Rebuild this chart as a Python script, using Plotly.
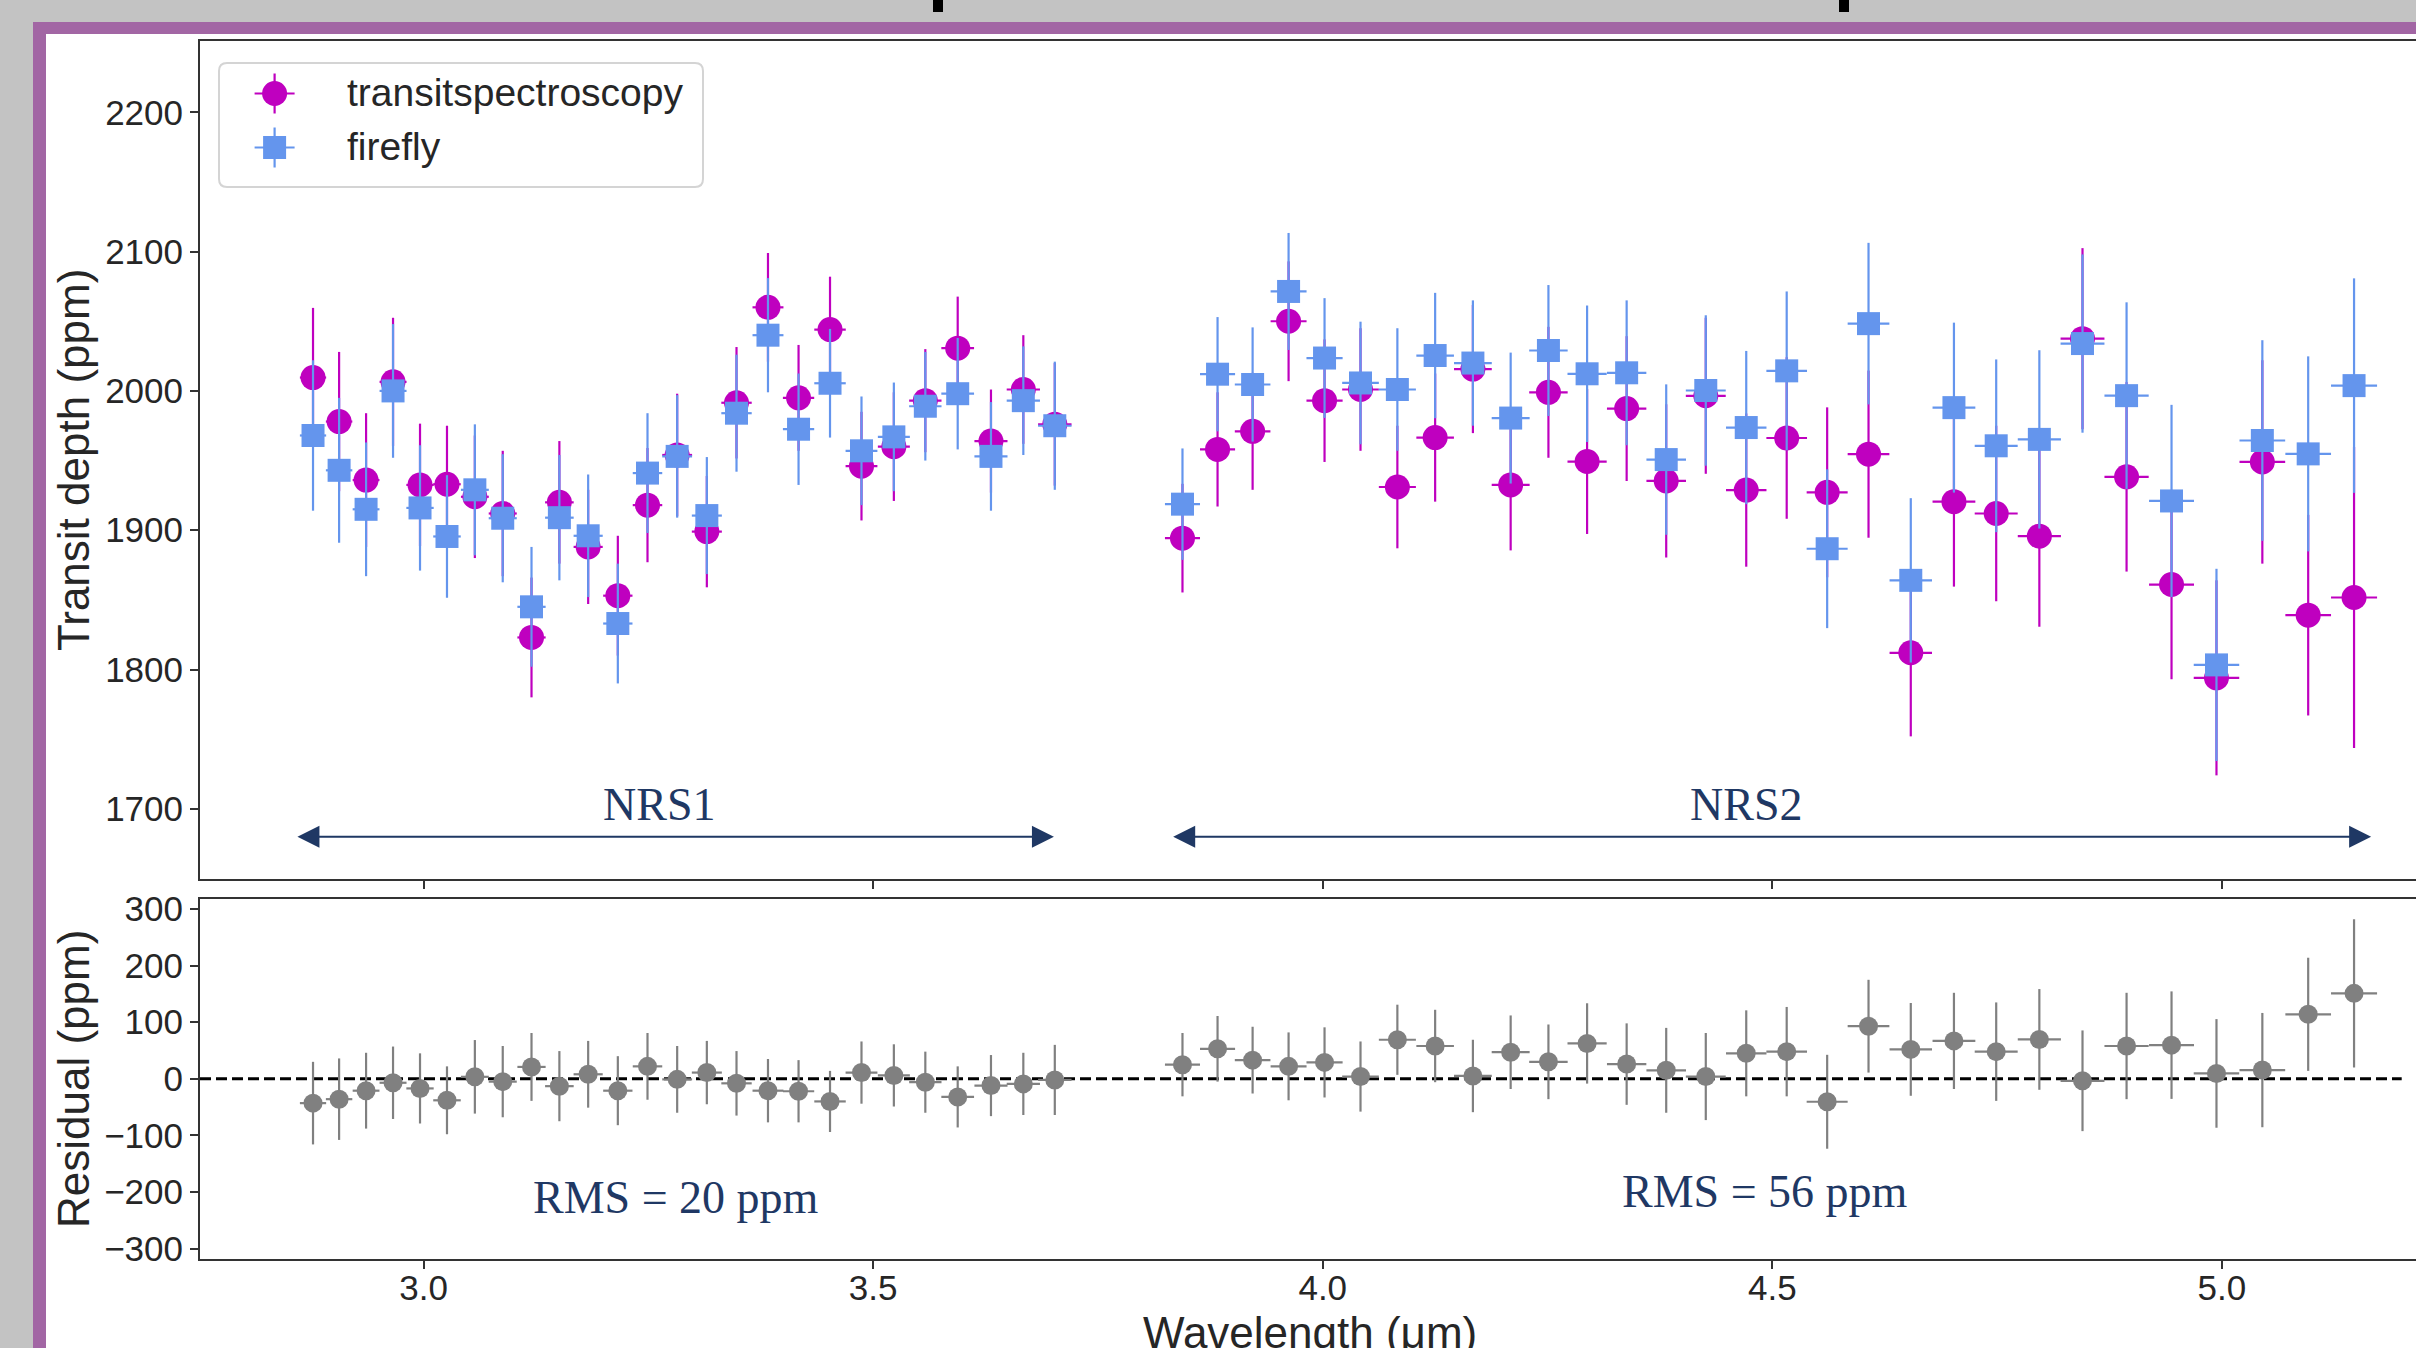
import plotly.graph_objects as go

W, H = 2416, 1348

# ---------------- data ----------------
wavelength_nrs1 = [2.877, 2.906, 2.936, 2.966, 2.996, 3.026, 3.057, 3.088, 3.120, 3.151,
                   3.183, 3.216, 3.249, 3.282, 3.315, 3.348, 3.383, 3.417, 3.452, 3.487,
                   3.523, 3.558, 3.594, 3.631, 3.667, 3.702]
wavelength_nrs2 = [3.844, 3.883, 3.922, 3.962, 4.002, 4.042, 4.083, 4.125, 4.167, 4.209,
                   4.251, 4.294, 4.338, 4.382, 4.426, 4.471, 4.516, 4.561, 4.607, 4.654,
                   4.702, 4.749, 4.797, 4.845, 4.894, 4.944, 4.994, 5.045, 5.096, 5.147]
bin_halfwidth_nrs1 = [0.0146, 0.0147, 0.0149, 0.0150, 0.0152, 0.0153, 0.0155, 0.0156, 0.0157, 0.0159,
                      0.0162, 0.0163, 0.0164, 0.0166, 0.0167, 0.0169, 0.0172, 0.0174, 0.0175, 0.0177,
                      0.0178, 0.0180, 0.0182, 0.0184, 0.0185, 0.0186]
bin_halfwidth_nrs2 = [0.0195, 0.0195, 0.0198, 0.0200, 0.0201, 0.0204, 0.0206, 0.0209, 0.0210, 0.0211,
                      0.0214, 0.0218, 0.0219, 0.0220, 0.0222, 0.0225, 0.0226, 0.0228, 0.0232, 0.0236,
                      0.0238, 0.0239, 0.0240, 0.0244, 0.0246, 0.0250, 0.0253, 0.0254, 0.0254, 0.0256]

ts_depth_nrs1 = [2009.6, 1978, 1936, 2006.5, 1932.5, 1933, 1924, 1912, 1823, 1920,
                 1888, 1853, 1918, 1954, 1899, 1991.5, 2060, 1995, 2044, 1946,
                 1960, 1993, 2030.7, 1964, 2001, 1976]
ts_err_nrs1 = [50, 50, 48, 46, 44, 42, 44, 45, 43, 44, 41, 43, 41, 44, 40, 40, 39, 38, 38, 39,
               39, 37, 37, 37, 39, 44]
ts_depth_nrs2 = [1894.3, 1958, 1971, 2050, 1993, 2001, 1931, 1966.5, 2015.7, 1932.5,
                 1999, 1949.3, 1987.3, 1935.4, 1996.5, 1928.8, 1966.2, 1927.2, 1954.6, 1812,
                 1920.5, 1912, 1895.7, 2037.5, 1938.3, 1861, 1794, 1949, 1839, 1851.7]
ts_err_nrs2 = [39, 41, 42, 43, 44, 44, 44, 46, 46, 47, 47, 52, 52, 55, 56, 55, 58, 61, 60, 60,
               61, 63, 65, 65, 68, 68, 70, 73, 72, 108]

ff_depth_nrs1 = [1968, 1943, 1915, 2000, 1916, 1895.5, 1929, 1908.6, 1845, 1909,
                 1896, 1833, 1941, 1953, 1910.5, 1984, 2040, 1972.5, 2005.5, 1957,
                 1967, 1989, 1998, 1953, 1993, 1975]
ff_err_nrs1 = [54, 52, 48, 48, 45, 44, 47, 46, 43, 45, 44, 43, 43, 44, 42, 42, 41, 40, 39, 39,
               39, 39, 40, 39, 39, 46]
ff_depth_nrs2 = [1918.7, 2012, 2004.6, 2071.4, 2023.6, 2005.7, 2001, 2025.4, 2020, 1980.5,
                 2029, 2012.3, 2013, 1950.7, 2000.3, 1973.7, 2014.4, 1886.7, 2048.3, 1864,
                 1988, 1960.6, 1965.2, 2034, 1996.6, 1921, 1803.3, 1964.4, 1954.8, 2003.8]
ff_err_nrs2 = [40, 41, 41, 42, 43, 44, 44, 45, 45, 47, 47, 49, 52, 54, 54, 55, 57, 57, 58, 59,
               61, 62, 64, 64, 67, 69, 69, 72, 70, 77]

resid_nrs1 = [-43, -36, -21, -7, -17, -38, 3.5, -5, 21, -13, 8, -21, 22, -1, 11, -8, -21, -22,
              -40, 11, 6, -6, -32, -12, -9, -2]
resid_err_nrs1 = [73, 72, 67, 64, 62, 60, 65, 63, 60, 62, 59, 61, 59, 59, 56, 57, 56, 55, 54, 55,
                  55, 54, 54, 54, 55, 62]
resid_nrs2 = [25, 53, 33, 22, 29, 4, 69, 58, 5, 47, 30, 62.5, 26, 15, 4, 45, 48, -40.6, 93, 52,
              67, 48, 69.6, -3.5, 58, 59.5, 9.5, 15.4, 114, 151]
resid_err_nrs2 = [56, 58, 59, 60, 62, 62, 62, 64, 64, 65, 66, 71, 72, 75, 77, 76, 79, 83, 82, 82,
                  85, 87, 89, 89, 94, 95, 96, 101, 100, 131]

x_tick_vals = [3.0, 3.5, 4.0, 4.5, 5.0]
x_tick_text = ["3.0", "3.5", "4.0", "4.5", "5.0"]
depth_ticks = [1700, 1800, 1900, 2000, 2100, 2200]
resid_ticks = [-300, -200, -100, 0, 100, 200, 300]

detector_names = ["NRS1", "NRS2"]
detector_spans = [(2.858, 3.701), (3.832, 5.166)]
detector_label_x = [3.262, 4.471]
rms_labels = ["RMS = 20 ppm", "RMS = 56 ppm"]
rms_label_x = [3.281, 4.492]
rms_label_y = [-210, -200]
series_names = ["transitspectroscopy", "firefly"]

# ---------------- layout constants ----------------
X_RANGE = [2.7513, 5.2159]
Y_RANGE = [1649.6, 2251.2]
R_RANGE = [-318.5, 317.8]
C_TS = "#bf00bf"
C_FF = "#6495ed"
C_RES = "#808080"
NAVY = "#1f3864"
TXT = "#262626"
SANS = "Liberation Sans, Arial, sans-serif"
SERIF = "Liberation Serif, Times New Roman, serif"


def px(xp):
    return xp / W


def py(yp):
    return 1 - yp / H


wl = wavelength_nrs1 + wavelength_nrs2
hw = bin_halfwidth_nrs1 + bin_halfwidth_nrs2
ts = ts_depth_nrs1 + ts_depth_nrs2
ts_err = ts_err_nrs1 + ts_err_nrs2
ff = ff_depth_nrs1 + ff_depth_nrs2
ff_err = ff_err_nrs1 + ff_err_nrs2
res = resid_nrs1 + resid_nrs2
res_err = resid_err_nrs1 + resid_err_nrs2

fig = go.Figure()

fig.add_trace(go.Scatter(
    x=wl, y=ts, mode="markers", name=series_names[0], showlegend=False,
    marker=dict(symbol="circle", size=25, color=C_TS, line=dict(width=0)),
    error_y=dict(type="data", array=ts_err, color=C_TS, thickness=2.2, width=0),
    error_x=dict(type="data", array=hw, color=C_TS, thickness=2.2, width=0),
    xaxis="x", yaxis="y"))
fig.add_trace(go.Scatter(
    x=wl, y=ff, mode="markers", name=series_names[1], showlegend=False,
    marker=dict(symbol="square", size=23, color=C_FF, line=dict(width=0)),
    error_y=dict(type="data", array=ff_err, color=C_FF, thickness=2.2, width=0),
    error_x=dict(type="data", array=hw, color=C_FF, thickness=2.2, width=0),
    xaxis="x", yaxis="y"))

# zero line in residual panel
fig.add_trace(go.Scatter(
    x=[X_RANGE[0], 5.2], y=[0, 0], mode="lines", showlegend=False, hoverinfo="skip",
    line=dict(color="black", width=3, dash="11px,5px"), xaxis="x2", yaxis="y2"))
fig.add_trace(go.Scatter(
    x=wl, y=res, mode="markers", showlegend=False,
    marker=dict(symbol="circle", size=19, color=C_RES, line=dict(width=0)),
    error_y=dict(type="data", array=res_err, color=C_RES, thickness=2.2, width=0),
    error_x=dict(type="data", array=hw, color=C_RES, thickness=2.2, width=0),
    xaxis="x2", yaxis="y2"))

axis_common = dict(showgrid=False, zeroline=False, showline=True, linecolor="#333333", linewidth=2,
                   ticks="outside", ticklen=8, tickwidth=1.5, tickcolor="#333333",
                   tickfont=dict(family=SANS, size=35, color=TXT), automargin=False)

fig.update_layout(
    width=W, height=H,
    margin=dict(l=0, r=0, t=0, b=0),
    paper_bgcolor="#c3c3c3",
    plot_bgcolor="white",
    showlegend=False,
    xaxis=dict(domain=[px(200), 1.0], range=X_RANGE, anchor="y", tickvals=x_tick_vals,
               showticklabels=False, mirror=True, **axis_common),
    yaxis=dict(domain=[py(879), py(41)], range=Y_RANGE, anchor="x", tickvals=depth_ticks,
               **axis_common),
    xaxis2=dict(domain=[px(200), 1.0], range=X_RANGE, anchor="y2", tickvals=x_tick_vals,
                ticktext=x_tick_text, mirror=True, ticklabelstandoff=-11, **axis_common),
    yaxis2=dict(domain=[py(1259), py(899)], range=R_RANGE, anchor="x2", tickvals=resid_ticks,
                **axis_common),
)

shapes = []
# slide background: purple frame and white panel
shapes.append(dict(type="rect", xref="paper", yref="paper", x0=px(33), x1=px(2430), y0=py(1360), y1=py(22),
                   fillcolor="#a266a4", line=dict(width=0), layer="below"))
shapes.append(dict(type="rect", xref="paper", yref="paper", x0=px(46), x1=px(2430), y0=py(1360), y1=py(34),
                   fillcolor="white", line=dict(width=0), layer="below"))
# cut-off title glyph fragments at the very top
for xa in (933, 1839):
    shapes.append(dict(type="rect", xref="paper", yref="paper", x0=px(xa), x1=px(xa + 10), y0=py(12), y1=py(0),
                       fillcolor="black", line=dict(width=0), layer="above"))

# legend box (rounded)
x0, x1, y0, y1, r = 219, 703, 63, 187, 8
path = (f"M {px(x0 + r)},{py(y0)} L {px(x1 - r)},{py(y0)} Q {px(x1)},{py(y0)} {px(x1)},{py(y0 + r)} "
        f"L {px(x1)},{py(y1 - r)} Q {px(x1)},{py(y1)} {px(x1 - r)},{py(y1)} "
        f"L {px(x0 + r)},{py(y1)} Q {px(x0)},{py(y1)} {px(x0)},{py(y1 - r)} "
        f"L {px(x0)},{py(y0 + r)} Q {px(x0)},{py(y0)} {px(x0 + r)},{py(y0)} Z")
shapes.append(dict(type="path", xref="paper", yref="paper", path=path, fillcolor="rgba(255,255,255,0.8)",
                   line=dict(color="#d4d4d4", width=2)))
# legend keys
legend_rows = [(93.5, C_TS, "circle", 12.5), (147.5, C_FF, "square", 11.5)]
lx = 274.6
for yc, col, sym, rad in legend_rows:
    shapes.append(dict(type="line", xref="paper", yref="paper", x0=px(lx - 20), x1=px(lx + 20), y0=py(yc), y1=py(yc),
                       line=dict(color=col, width=2.2)))
    shapes.append(dict(type="line", xref="paper", yref="paper", x0=px(lx), x1=px(lx), y0=py(yc - 20), y1=py(yc + 20),
                       line=dict(color=col, width=2.2)))
    shapes.append(dict(type="circle" if sym == "circle" else "rect", xref="paper", yref="paper",
                       x0=px(lx - rad), x1=px(lx + rad), y0=py(yc + rad), y1=py(yc - rad),
                       fillcolor=col, line=dict(width=0)))
fig.update_layout(shapes=shapes)

ann = []
for name, (yc, _, _, _) in zip(series_names, legend_rows):
    ann.append(dict(text=name, xref="paper", yref="paper", x=px(345), y=py(yc - 1), xanchor="left",
                    yanchor="middle", showarrow=False, font=dict(family=SANS, size=39, color=TXT)))
# axis titles
ann.append(dict(text="Transit depth (ppm)", xref="paper", yref="paper", x=px(73), y=py(460), textangle=-90,
                xanchor="center", yanchor="middle", showarrow=False, font=dict(family=SANS, size=44, color=TXT)))
ann.append(dict(text="Residual (ppm)", xref="paper", yref="paper", x=px(73), y=py(1079), textangle=-90,
                xanchor="center", yanchor="middle", showarrow=False, font=dict(family=SANS, size=44, color=TXT)))
ann.append(dict(text="Wavelength (μm)", xref="paper", yref="paper", x=px(1310), y=py(1332),
                xanchor="center", yanchor="middle", showarrow=False, font=dict(family=SANS, size=44, color=TXT)))
# detector arrows and labels
for name, (a, b), lxd in zip(detector_names, detector_spans, detector_label_x):
    ann.append(dict(x=b, y=1680, ax=a, ay=1680, xref="x", yref="y", axref="x", ayref="y", text="",
                    showarrow=True, arrowside="end+start", arrowhead=2, startarrowhead=2,
                    arrowsize=2.2, startarrowsize=2.2, arrowwidth=2, arrowcolor=NAVY,
                    standoff=0, startstandoff=0))
    ann.append(dict(text=name, x=lxd, y=1703, xref="x", yref="y", showarrow=False,
                    xanchor="center", yanchor="middle", font=dict(family=SERIF, size=46, color=NAVY)))
for t, xr, yr in zip(rms_labels, rms_label_x, rms_label_y):
    ann.append(dict(text=t, x=xr, y=yr, xref="x2", yref="y2", showarrow=False,
                    xanchor="center", yanchor="middle", font=dict(family=SERIF, size=46, color=NAVY)))
fig.update_layout(annotations=ann)

fig.write_html("out.html")
